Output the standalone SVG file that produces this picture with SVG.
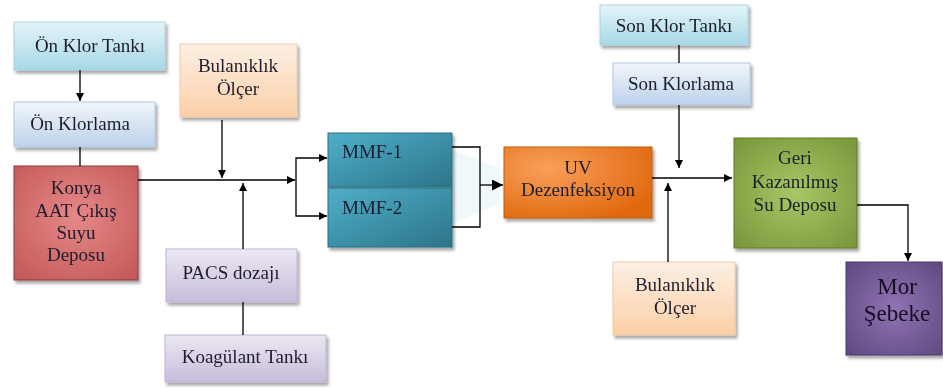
<svg xmlns="http://www.w3.org/2000/svg" width="943" height="389" viewBox="0 0 943 389" font-family="'Liberation Serif', 'DejaVu Serif', serif">
<defs>
<filter id="sh" x="-10%" y="-10%" width="125%" height="130%">
<feDropShadow dx="2" dy="3" stdDeviation="1.5" flood-color="#000" flood-opacity="0.35"/>
</filter>
<linearGradient id="gCyan" x1="0" y1="0" x2="0" y2="1"><stop offset="0" stop-color="#e4f4f8"/><stop offset="1" stop-color="#a7d8e6"/></linearGradient>
<linearGradient id="gBlue" x1="0" y1="0" x2="0" y2="1"><stop offset="0" stop-color="#f2f6fb"/><stop offset="1" stop-color="#bcd2ec"/></linearGradient>
<linearGradient id="gPeach" x1="0" y1="0" x2="0" y2="1"><stop offset="0" stop-color="#fdf0e4"/><stop offset="1" stop-color="#fbcfa6"/></linearGradient>
<radialGradient id="gRed" cx="0.5" cy="0.45" r="0.7"><stop offset="0" stop-color="#e68888"/><stop offset="1" stop-color="#c45a5a"/></radialGradient>
<linearGradient id="gLav" x1="0" y1="0" x2="0" y2="1"><stop offset="0" stop-color="#ece8f2"/><stop offset="1" stop-color="#c7bcdb"/></linearGradient>
<linearGradient id="gTeal" x1="0" y1="0" x2="1" y2="1"><stop offset="0" stop-color="#4eafc8"/><stop offset="1" stop-color="#2c7489"/></linearGradient>
<radialGradient id="gOrange" cx="0.3" cy="0.3" r="0.8"><stop offset="0" stop-color="#f8a05a"/><stop offset="1" stop-color="#e0680e"/></radialGradient>
<radialGradient id="gGreen" cx="0.5" cy="0.5" r="0.7"><stop offset="0" stop-color="#a8c766"/><stop offset="1" stop-color="#78963a"/></radialGradient>
<radialGradient id="gPurple" cx="0.5" cy="0.5" r="0.7"><stop offset="0" stop-color="#8f74b2"/><stop offset="1" stop-color="#5f4982"/></radialGradient>
<marker id="ar" viewBox="0 0 10 10" refX="10" refY="5" markerWidth="8" markerHeight="8" markerUnits="userSpaceOnUse" orient="auto"><path d="M0,0 L10,5 L0,10 z" fill="#000"/></marker>
<marker id="arB" viewBox="0 0 10 10" refX="10" refY="5" markerWidth="11" markerHeight="11" markerUnits="userSpaceOnUse" orient="auto"><path d="M0,0 L10,5 L0,10 z" fill="#000"/></marker>
</defs>
<style>
text{font-family:"Liberation Serif","DejaVu Serif",serif}
.t{font-size:19px;fill:#1e1e2e;text-anchor:middle}
.l{text-anchor:start}
.big{font-size:23px;fill:#140c22}
.box{filter:url(#sh)}
.c{fill:none;stroke:#000;stroke-width:1.3}
</style>
<rect width="943" height="389" fill="#fff"/>
<polygon points="452,150 500,168 500,204 452,224" fill="#e8f5f9" opacity="0.7"/>
<g id="onKlorTanki" class="box"><rect x="14" y="22" width="151" height="48" fill="url(#gCyan)" stroke="#a9d3df" stroke-width="1"/><text class="t" x="90" y="52">Ön Klor Tankı</text></g>
<g id="onKlorlama" class="box"><rect x="14" y="102" width="141" height="45" fill="url(#gBlue)" stroke="#b3c8e0" stroke-width="1"/><text class="t" x="80" y="130">Ön Klorlama</text></g>
<g id="bulaniklik1" class="box"><rect x="180" y="44" width="117" height="73" fill="url(#gPeach)" stroke="#f0c9a6" stroke-width="1"/><text class="t" x="238" y="72">Bulanıklık</text><text class="t" x="238" y="95">Ölçer</text></g>
<g id="konya" class="box"><rect x="14" y="166" width="124" height="114" fill="url(#gRed)" stroke="#8c3a3a" stroke-width="1"/><text class="t" x="76" y="194">Konya</text><text class="t" x="76" y="217">AAT Çıkış</text><text class="t" x="76" y="239">Suyu</text><text class="t" x="76" y="261">Deposu</text></g>
<g id="pacs" class="box"><rect x="166" y="249" width="131" height="53" fill="url(#gLav)" stroke="#bfb3d3" stroke-width="1"/><text class="t" x="231" y="279">PACS  dozajı</text></g>
<g id="koagulant" class="box"><rect x="165" y="335" width="161" height="47" fill="url(#gLav)" stroke="#bfb3d3" stroke-width="1"/><text class="t" x="245" y="363">Koagülant Tankı</text></g>
<g id="mmf1" class="box"><rect x="328" y="133" width="124" height="54" fill="url(#gTeal)" stroke="#2a6f82" stroke-width="1"/><text class="t l" x="342" y="158">MMF-1</text></g>
<g id="mmf2" class="box"><rect x="328" y="188" width="124" height="59" fill="url(#gTeal)" stroke="#2a6f82" stroke-width="1"/><text class="t l" x="342" y="214">MMF-2</text></g>
<g id="uv" class="box"><rect x="504" y="147" width="148" height="71" fill="url(#gOrange)" stroke="#c55a08" stroke-width="1"/><text class="t" x="578" y="174">UV</text><text class="t" x="578" y="196">Dezenfeksiyon</text></g>
<g id="sonKlorTanki" class="box"><rect x="600" y="5" width="148" height="40" fill="url(#gCyan)" stroke="#a9d3df" stroke-width="1"/><text class="t" x="674" y="32">Son Klor  Tankı</text></g>
<g id="sonKlorlama" class="box"><rect x="613" y="63" width="137" height="42" fill="url(#gBlue)" stroke="#b3c8e0" stroke-width="1"/><text class="t" x="681" y="90">Son Klorlama</text></g>
<g id="bulaniklik2" class="box"><rect x="613" y="262" width="122" height="73" fill="url(#gPeach)" stroke="#f0c9a6" stroke-width="1"/><text class="t" x="675" y="291">Bulanıklık</text><text class="t" x="675" y="314">Ölçer</text></g>
<g id="geri" class="box"><rect x="734" y="138" width="123" height="110" fill="url(#gGreen)" stroke="#5f7a2c" stroke-width="1"/><text class="t" x="795" y="164">Geri</text><text class="t" x="795" y="188">Kazanılmış</text><text class="t" x="795" y="211">Su Deposu</text></g>
<g id="mor" class="box"><rect x="846" y="262" width="96" height="93" fill="url(#gPurple)" stroke="#4a3866" stroke-width="1"/><text class="t big" x="897" y="294">Mor</text><text class="t big" x="897" y="321">Şebeke</text></g>
<g id="connectors">
<path class="c" d="M80,70 V101" marker-end="url(#ar)"/>
<path class="c" d="M80,147 V166"/>
<path class="c" d="M222,120 V178" marker-end="url(#ar)"/>
<path class="c" d="M138,180 H295" marker-end="url(#ar)"/>
<path class="c" d="M243,249 V183" marker-end="url(#ar)"/>
<path class="c" d="M243,302 V335"/>
<path class="c" d="M296,180 V158 H327" marker-end="url(#ar)"/>
<path class="c" d="M296,180 V216 H327" marker-end="url(#ar)"/>
<path class="c" d="M452,147 H480 V227 H452"/>
<path class="c" d="M480,185 H503" marker-end="url(#arB)"/>
<path class="c" d="M652,178 H732" marker-end="url(#ar)"/>
<path class="c" d="M679,45 V63"/>
<path class="c" d="M679,105 V168" marker-end="url(#ar)"/>
<path class="c" d="M668,262 V183" marker-end="url(#ar)"/>
<path class="c" d="M857,205 H908 V261" marker-end="url(#ar)"/>
</g>
</svg>
